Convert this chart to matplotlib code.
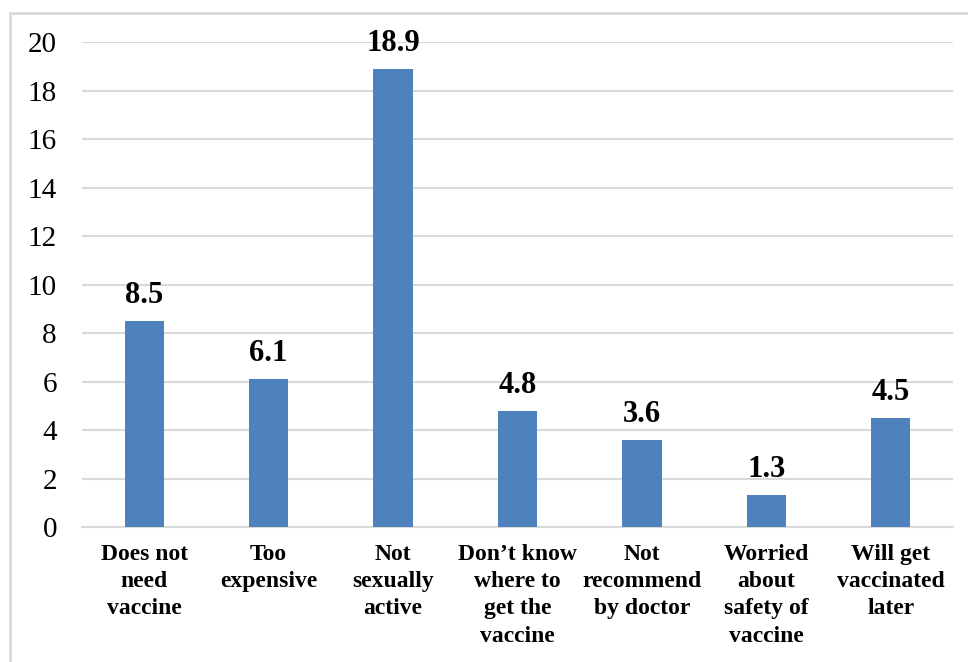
import matplotlib.pyplot as plt
import matplotlib.patches as mpatches
import numpy as np

# chart data
categories = ["Does not\nneed\nvaccine", "Too\nexpensive", "Not\nsexually\nactive",
              "Don\u2019t know\nwhere to\nget the\nvaccine", "Not\nrecommend\nby doctor",
              "Worried\nabout\nsafety of\nvaccine", "Will get\nvaccinated\nlater"]
values = [8.5, 6.1, 18.9, 4.8, 3.6, 1.3, 4.5]
yticks = [0, 2, 4, 6, 8, 10, 12, 14, 16, 18, 20]

bar_color = "#4F81BD"
grid_color = "#D9D9D9"

plt.rcParams['font.family'] = ['Liberation Serif', 'DejaVu Serif']

fig = plt.figure(figsize=(9.68, 6.62), dpi=100)
ax = fig.add_axes([0.0847, 0.2039, 0.8998, 0.7326])

# outer light gray frame (cropped on right/bottom)
fig.patches.append(mpatches.Rectangle((10/968, -0.05), 1.2, 1 - 13/662 + 0.05,
                                      transform=fig.transFigure, fill=False,
                                      edgecolor=grid_color, linewidth=2))

x = np.arange(len(categories))
bars = ax.bar(x, values, width=0.315, color=bar_color, zorder=3)

for xi, v in zip(x, values):
    ax.annotate(f"{v}", (xi, v), xytext=(0, 8), textcoords="offset points",
                ha="center", va="bottom", fontsize=22, fontweight="bold")

ax.set_xlim(-0.5, len(categories) - 0.5)
ax.set_ylim(0, 20)
ax.set_yticks(yticks)
ax.set_xticks(x)
ax.set_xticklabels(categories, fontsize=17, fontweight="bold", linespacing=1.4)
ax.tick_params(axis="y", length=0, labelsize=21, pad=18)
ax.tick_params(axis="x", length=0, pad=12)

ax.grid(axis="y", color=grid_color, linewidth=1.5, zorder=0)
for s in ["top", "right", "left"]:
    ax.spines[s].set_visible(False)
ax.spines["bottom"].set_color(grid_color)
ax.spines["bottom"].set_linewidth(1.5)

fig.savefig("out.png", dpi=100)
